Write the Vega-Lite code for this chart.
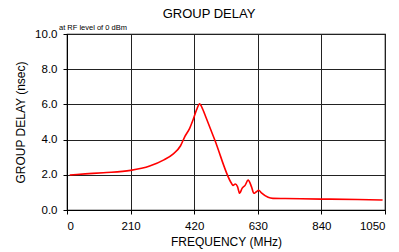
{
  "$schema": "https://vega.github.io/schema/vega-lite/v6.json",
  "width": 318,
  "height": 176,
  "autosize": "none",
  "padding": {"left": 67, "top": 34, "right": 14, "bottom": 42},
  "background": "white",
  "config": {
    "font": "Liberation Sans",
    "view": {"stroke": "black", "strokeWidth": 1.2},
    "axis": {
      "labelOverlap": false,
      "titleFont": "Liberation Sans", "titleFontSize": 12, "titleFontWeight": "normal", "titleColor": "black",
      "labelFont": "Liberation Sans", "labelFontSize": 11.5, "labelColor": "black",
      "tickColor": "black", "tickSize": 4, "domainColor": "black",
      "grid": true, "gridColor": "#222222", "gridWidth": 1, "gridOpacity": 1
    }
  },
  "title": {
    "text": "GROUP DELAY",
    "fontSize": 13,
    "fontWeight": "normal",
    "color": "black",
    "offset": 3,
    "dx": -17,
    "anchor": "middle"
  },
  "layer": [
    {
      "data": {"values": [
        {"f": 9, "d": 1.99},
        {"f": 60, "d": 2.05},
        {"f": 120, "d": 2.12},
        {"f": 210, "d": 2.25},
        {"f": 273, "d": 2.5},
        {"f": 320, "d": 2.85},
        {"f": 350, "d": 3.18},
        {"f": 375, "d": 3.65},
        {"f": 389, "d": 4.17},
        {"f": 405, "d": 4.64},
        {"f": 416, "d": 5.11},
        {"f": 428, "d": 5.7},
        {"f": 438, "d": 6.04},
        {"f": 445, "d": 5.85},
        {"f": 460, "d": 5.21},
        {"f": 488, "d": 3.98},
        {"f": 543, "d": 1.52},
        {"f": 548, "d": 1.4},
        {"f": 556, "d": 1.48},
        {"f": 563, "d": 1.33},
        {"f": 570, "d": 0.95},
        {"f": 578, "d": 1.23},
        {"f": 588, "d": 1.4},
        {"f": 598, "d": 1.7},
        {"f": 609, "d": 1.33},
        {"f": 617, "d": 0.95},
        {"f": 624, "d": 1.02},
        {"f": 633, "d": 1.12},
        {"f": 642, "d": 0.97},
        {"f": 664, "d": 0.72},
        {"f": 680, "d": 0.66},
        {"f": 720, "d": 0.65},
        {"f": 840, "d": 0.62},
        {"f": 960, "d": 0.6},
        {"f": 1042, "d": 0.57}
      ]},
      "mark": {"type": "line", "color": "#ff0000", "strokeWidth": 1.6, "interpolate": "monotone"},
      "encoding": {
        "x": {
          "field": "f", "type": "quantitative",
          "scale": {"domain": [0, 1050], "nice": false, "zero": false},
          "axis": {"values": [0, 210, 420, 630, 840, 1050], "format": "d", "title": "FREQUENCY (MHz)", "titlePadding": 5, "labelPadding": 6}
        },
        "y": {
          "field": "d", "type": "quantitative",
          "scale": {"domain": [0, 10], "nice": false},
          "axis": {"values": [0, 2, 4, 6, 8, 10], "format": ".1f", "title": "GROUP DELAY (nsec)", "titlePadding": 7, "labelPadding": 6}
        }
      }
    },
    {
      "data": {"values": [{"f": 0, "d": 10, "t": "at RF level of 0 dBm"}]},
      "mark": {"type": "text", "align": "left", "baseline": "alphabetic", "dx": -8, "dy": -4, "fontSize": 7.5, "fill": "#000000", "font": "Liberation Sans"},
      "encoding": {
        "x": {
          "field": "f", "type": "quantitative",
          "scale": {"domain": [0, 1050], "nice": false, "zero": false},
          "axis": {"values": [0, 210, 420, 630, 840, 1050], "format": "d", "title": "FREQUENCY (MHz)", "titlePadding": 5, "labelPadding": 6}
        },
        "y": {
          "field": "d", "type": "quantitative",
          "scale": {"domain": [0, 10], "nice": false},
          "axis": {"values": [0, 2, 4, 6, 8, 10], "format": ".1f", "title": "GROUP DELAY (nsec)", "titlePadding": 7, "labelPadding": 6}
        },
        "text": {"field": "t"}
      }
    }
  ]
}
